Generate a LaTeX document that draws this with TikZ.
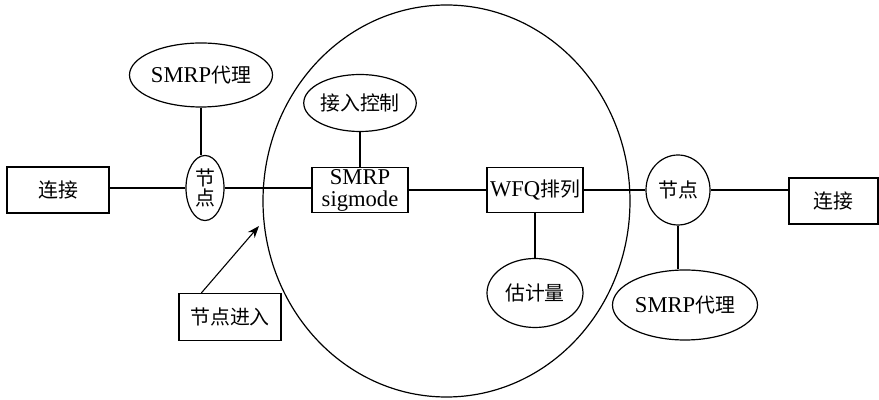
\documentclass[tikz,border=0pt]{standalone}
\usepackage{fontspec}
\setmainfont{Liberation Serif}
\newfontfamily\cjk[Scale=0.88]{Noto Sans CJK SC}
\usetikzlibrary{shapes.geometric,arrows.meta}
\newcommand{\zh}[1]{{\cjk #1}}
\begin{document}
\begin{tikzpicture}[x=0.5pt,y=-0.5pt,
  every node/.style={font=\fontsize{11.3}{11}\selectfont, inner sep=0pt},
  box/.style={draw, rectangle, line width=0.6pt, align=center},
  oval/.style={draw, ellipse, line width=0.6pt, align=center},
  link/.style={line width=0.55pt},
  arr/.style={line width=0.55pt, -{Stealth[length=6pt,width=4.5pt]}}]
\useasboundingbox (0,0) rectangle (879,400);
% big domain
\node[draw, ellipse, line width=0.6pt, minimum width=183.5pt, minimum height=196pt] (dom) at (446.5,201) {};
% left side
\node[box, minimum width=51pt, minimum height=23pt] (lbox) at (58,190) {\zh{连接}};
\node[oval, minimum width=71.5pt, minimum height=32pt] (lagent) at (201,75) {SMRP\zh{代理}};
\node[oval, minimum width=19pt, minimum height=32.5pt] (lnode) at (205,188) {\zh{节}\\[-1pt]\zh{点}};
% inside
\node[box, minimum width=48pt, minimum height=22.5pt] (smrp) at (360,190) {SMRP\\sigmode};
\node[oval, minimum width=48.5pt, minimum height=28.5pt] (ac) at (360,103) {\zh{接入控制}};
\node[box, minimum width=48pt, minimum height=22.5pt] (wfq) at (535,190) {WFQ\zh{排列}};
\node[oval, minimum width=48pt, minimum height=34.5pt] (est) at (535,293) {\zh{估计量}};
% entry
\node[box, minimum width=51pt, minimum height=23.5pt] (entry) at (230,317) {\zh{节点进入}};
\coordinate (tip) at (259,226);
% right side
\node[oval, minimum width=32pt, minimum height=35pt] (rnode) at (678,190) {\zh{节点}};
\node[box, minimum width=44.5pt, minimum height=23pt] (rbox) at (833.5,201) {\zh{连接}};
\node[oval, minimum width=72.5pt, minimum height=35pt] (ragent) at (685,305) {SMRP\zh{代理}};
% connectors
\draw[link] (lbox.east |- lnode.west) -- (lnode.west);
\draw[link] (lagent.south) -- (lagent.south |- lnode.north);
\draw[link] (lnode.east) -- (lnode.east -| smrp.west);
\draw[link] (ac.south) -- (smrp.north);
\draw[link] (smrp.east) -- (wfq.west);
\draw[link] (wfq.south) -- (est.north);
\draw[link] (wfq.east) -- (rnode.west);
\draw[link] (rnode.east) -- (rnode.east -| rbox.west);
\draw[link] (rnode.south) -- (rnode.south |- ragent.north);
\draw[arr] ([xshift=11.5pt]entry.north west) -- (tip);
\end{tikzpicture}
\end{document}
